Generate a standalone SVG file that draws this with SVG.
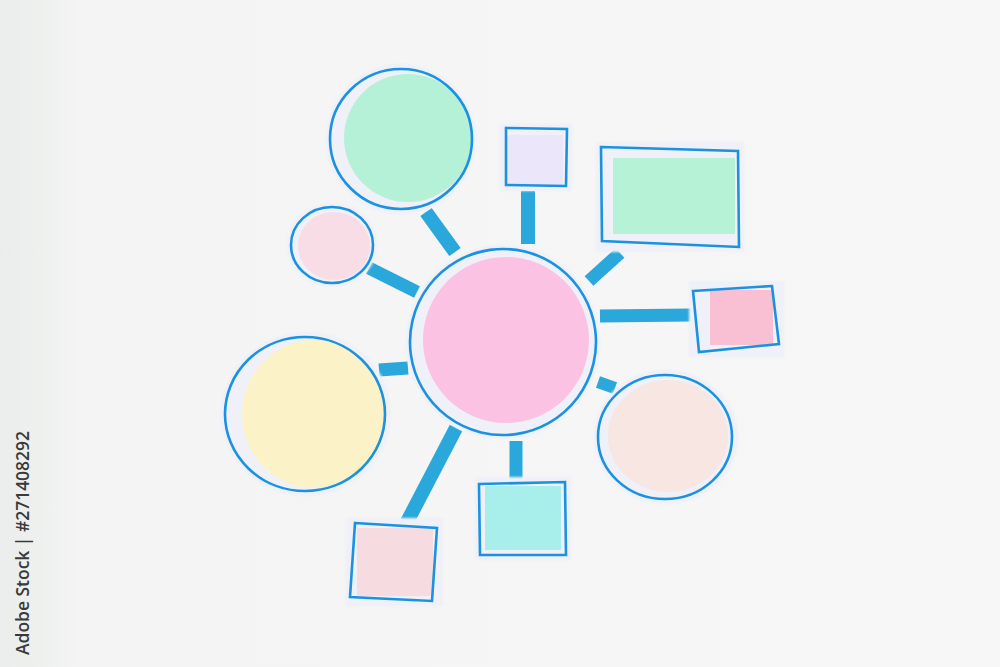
<svg xmlns="http://www.w3.org/2000/svg" width="1000" height="667" viewBox="0 0 1000 667">
  <defs>
    <linearGradient id="bg" x1="0" y1="0" x2="1" y2="0">
      <stop offset="0" stop-color="#eaedeb"/>
      <stop offset="0.08" stop-color="#f3f4f3"/>
      <stop offset="1" stop-color="#f6f7f6"/>
    </linearGradient>
    <filter id="soft" x="-10%" y="-10%" width="120%" height="120%">
      <feGaussianBlur stdDeviation="1.2"/>
    </filter>
  </defs>
  <style>
    .paper { fill: #eff0f8; }
    .ink { fill: none; stroke: #1b92e0; stroke-width: 2.6; }
    .strip { stroke: #2aa8dc; stroke-linecap: butt; fill: none; }
    .label { font-family: "Open Sans", "Liberation Sans", sans-serif; font-size: 18.5px; font-weight: 600; fill: #3a3a3a; }
  </style>

  <rect width="1000" height="667" fill="url(#bg)"/>

  <g id="connectors">
    <line class="strip" x1="426" y1="212" x2="455" y2="252" stroke-width="14"/>
    <line class="strip" x1="528" y1="191" x2="528" y2="244" stroke-width="14"/>
    <line class="strip" x1="620" y1="253" x2="589" y2="281" stroke-width="13"/>
    <line class="strip" x1="600" y1="316" x2="691" y2="315" stroke-width="13"/>
    <line class="strip" x1="598" y1="382" x2="615" y2="388" stroke-width="12"/>
    <line class="strip" x1="516" y1="441" x2="516" y2="479" stroke-width="13"/>
    <line class="strip" x1="456" y1="428" x2="407" y2="522" stroke-width="14"/>
    <line class="strip" x1="379" y1="370" x2="408" y2="368" stroke-width="13"/>
    <line class="strip" x1="369" y1="268" x2="417" y2="292" stroke-width="13"/>
  </g>

  <g id="center">
    <circle class="paper" cx="503" cy="342" r="97" filter="url(#soft)"/>
    <ellipse cx="506" cy="340" rx="83" ry="83" fill="#fbc2e3"/>
    <ellipse class="ink" cx="503" cy="342" rx="93" ry="93" transform="rotate(-8 503 342)"/>
  </g>

  <g id="green-circle">
    <circle class="paper" cx="401" cy="139" r="75" filter="url(#soft)"/>
    <circle cx="408" cy="138" r="64" fill="#b5f1d6"/>
    <ellipse class="ink" cx="401" cy="139" rx="71" ry="70"/>
  </g>

  <g id="small-pink-circle">
    <ellipse class="paper" cx="332" cy="245" rx="45" ry="42" filter="url(#soft)"/>
    <ellipse cx="334" cy="246" rx="36" ry="34" fill="#f9dde6"/>
    <ellipse class="ink" cx="332" cy="245" rx="41" ry="38"/>
  </g>

  <g id="yellow-circle">
    <ellipse class="paper" cx="306" cy="414" rx="85" ry="82" filter="url(#soft)"/>
    <ellipse cx="314" cy="414" rx="72" ry="74" fill="#fbf2c8"/>
    <ellipse class="ink" cx="305" cy="414" rx="80" ry="77" stroke-width="1.8"/>
  </g>

  <g id="peach-circle">
    <ellipse class="paper" cx="666" cy="437" rx="72" ry="67" filter="url(#soft)"/>
    <ellipse cx="668" cy="436" rx="60" ry="56" fill="#f8e6e3"/>
    <ellipse class="ink" cx="665" cy="437" rx="67" ry="62"/>
  </g>

  <g id="lavender-square">
    <rect class="paper" x="500" y="124" width="72" height="67" filter="url(#soft)"/>
    <rect x="507" y="135" width="56" height="50" fill="#ebe6f9"/>
    <path class="ink" d="M506 128 L567 129 L566 186 L506 185 Z" stroke-width="2"/>
  </g>

  <g id="green-rect">
    <rect class="paper" x="596" y="142" width="148" height="110" filter="url(#soft)"/>
    <rect x="613" y="158" width="122" height="76" fill="#b6f3d6"/>
    <path class="ink" d="M601 147 L738 151 L739 247 L602 241 Z"/>
  </g>

  <g id="pink-square">
    <rect class="paper" x="689" y="281" width="95" height="76" filter="url(#soft)"/>
    <rect x="710" y="290" width="63" height="55" fill="#f9c0d4"/>
    <path class="ink" d="M693 291 L772 286 L779 344 L699 352 Z"/>
  </g>

  <g id="cyan-square">
    <rect class="paper" x="475" y="477" width="96" height="83" filter="url(#soft)"/>
    <rect x="485" y="486" width="76" height="64" fill="#a8efeb"/>
    <path class="ink" d="M479 484 L565 482 L566 555 L480 555 Z"/>
  </g>

  <g id="rose-square">
    <rect class="paper" x="346" y="518" width="97" height="88" filter="url(#soft)"/>
    <rect x="357" y="528" width="76" height="68" fill="#f6dce0"/>
    <path class="ink" d="M355 523 L437 528 L432 601 L350 597 Z"/>
  </g>

  <text class="label" transform="translate(29 655) rotate(-90)" textLength="224" lengthAdjust="spacingAndGlyphs">Adobe Stock | #271408292</text>
</svg>
